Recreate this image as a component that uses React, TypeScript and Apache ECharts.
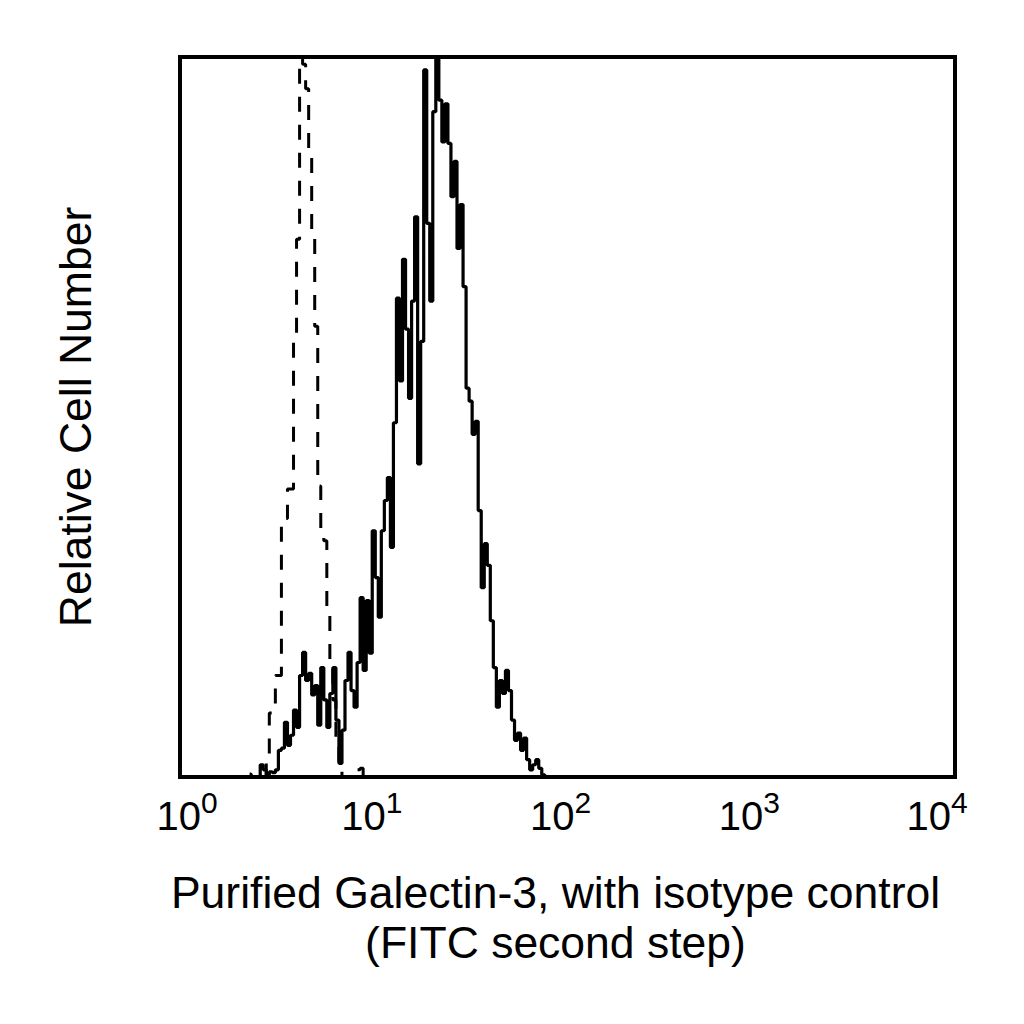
import * as echarts from 'echarts';
import React, { useEffect, useRef } from 'react';

// histogram channels: 256 channels over 4 log decades
const CHANNELS_PER_DECADE = 64;

// stained sample (solid line), counts per channel starting at channel 23
const stainedStart = 23;
const stainedCounts = [
  0.4, 0, 0, 0, 1.7, 1.0, 0.3, 0.7, 0.6, 1.0, 3.7, 4.0, 7.6, 4.4, 5.8, 9.3, 6.9,
  14.1, 17.3, 13.4, 14.4, 11.4, 12.7, 7.2, 15.2, 10.7, 6.9, 11.6, 15.2, 7.9, 1.9,
  6.5, 13.4, 17.3, 12.0, 9.7, 15.9, 24.9, 14.8, 24.5, 17.2, 34.2, 27.7, 22.2, 34.2,
  38.4, 41.6, 31.9, 49.2, 66.5, 55.0, 71.9, 62.2, 52.6, 66.1, 77.8, 43.5, 60.5,
  98.2, 76.9, 66.1, 92.4, 100, 94.0, 88.2, 93.5, 88.0, 80.6, 85.5, 73.4, 79.5,
  68.1, 54.0, 52.2, 47.6, 49.4, 37.0, 26.3, 32.4, 29.4, 21.7, 15.2, 9.7, 13.4,
  11.6, 14.8, 12.0, 7.9, 5.1, 6.1, 3.7, 5.4, 2.4, 1.0, 1.7, 2.4, 1.2, 0.3, 0,
];

// isotype control (dashed line), counts per channel starting at channel 28
const isotypeStart = 28;
const isotypeCounts = [
  0, 2.4, 8.9, 8.9, 14.1, 14.1, 35.9, 35.9, 40.0, 40.0, 61.5, 74.7, 100, 99, 95.6,
  86.8, 75.8, 62.6, 40.4, 33.5, 32.8, 23.1, 15.5, 10.7, 5.1, 1.0, 0, 0, 0, 0, 0,
  1.0, 1.2, 0,
];

const tickExponents = [0, 1, 2, 3, 4];

const xTitle = 'Purified Galectin-3, with isotype control\n(FITC second step)';
const yTitle = 'Relative Cell Number';

const FONT = '"Liberation Sans", Arial, Helvetica, sans-serif';

const toPoints = (start: number, counts: number[]) =>
  counts.map((c, i) => [Math.pow(10, (start + i) / CHANNELS_PER_DECADE), c]);

// nudges for the hand-placed decade labels of the original figure
const labelNudge = [7, -2, -7, -12, -18];

const buildRich = () => {
  const rich: Record<string, object> = {};
  tickExponents.forEach((e, i) => {
    const n = labelNudge[i];
    rich[`b${e}`] = {
      fontFamily: FONT,
      fontSize: 40,
      lineHeight: 40,
      color: '#000',
      padding: [0, 0, 0, n > 0 ? n * 2 : 0],
    };
    // bottom padding lifts the exponent into superscript position
    rich[`s${e}`] = {
      fontFamily: FONT,
      fontSize: 30,
      lineHeight: 30,
      color: '#000',
      padding: [0, n < 0 ? -n * 2 : 0, 27, 0],
    };
  });
  return rich;
};

const App = () => {
  const chartRef = useRef<HTMLDivElement>(null);

  useEffect(() => {
    if (!chartRef.current) return;
    const chart = echarts.init(chartRef.current, undefined, { renderer: 'svg' });

    chart.setOption({
      animation: false,
      backgroundColor: '#fff',
      grid: {
        left: 180,
        top: 57,
        width: 775,
        height: 720,
        show: true,
        borderColor: '#000',
        borderWidth: 4,
        backgroundColor: 'transparent',
      },
      xAxis: {
        type: 'log',
        logBase: 10,
        min: 1,
        max: 10000,
        axisLine: { show: false },
        axisTick: { show: false },
        splitLine: { show: false },
        minorTick: { show: false },
        axisLabel: {
          margin: 19,
          showMinLabel: true,
          showMaxLabel: true,
          formatter: (v: number) => {
            const e = Math.round(Math.log10(v));
            return `{b${e}|10}{s${e}|${e}}`;
          },
          rich: buildRich(),
        },
        name: xTitle,
        nameLocation: 'middle',
        nameGap: 90,
        nameTextStyle: {
          fontFamily: FONT,
          fontSize: 44.5,
          lineHeight: 50,
          color: '#000',
          padding: [0, 24, 0, 0],
        },
      },
      yAxis: {
        type: 'value',
        min: 0,
        max: 100,
        axisLine: { show: false },
        axisTick: { show: false },
        axisLabel: { show: false },
        splitLine: { show: false },
        name: yTitle,
        nameLocation: 'middle',
        nameGap: 82,
        nameTextStyle: {
          fontFamily: FONT,
          fontSize: 44.5,
          color: '#000',
        },
      },
      series: [
        {
          name: 'isotype control',
          type: 'line',
          step: 'middle',
          symbol: 'none',
          data: toPoints(isotypeStart, isotypeCounts),
          lineStyle: { color: '#000', width: 3, type: [15, 13] },
          silent: true,
        },
        {
          name: 'Galectin-3',
          type: 'line',
          step: 'middle',
          symbol: 'none',
          data: toPoints(stainedStart, stainedCounts),
          lineStyle: { color: '#000', width: 3.2, type: 'solid' },
          silent: true,
        },
      ],
    });

    return () => {
      chart.dispose();
    };
  }, []);

  return (
    <div
      ref={chartRef}
      style={{ position: 'fixed', left: 0, top: 0, width: 1024, height: 1024, background: '#fff' }}
    />
  );
};

export default App;
